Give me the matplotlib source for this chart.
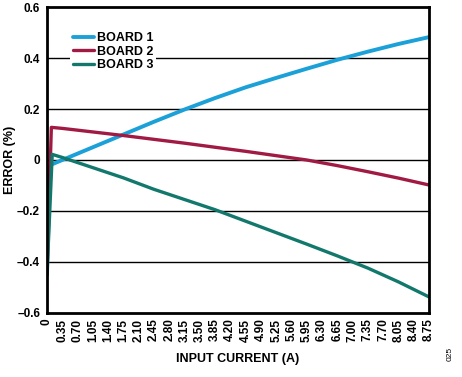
import matplotlib
matplotlib.use('Agg')
import numpy as np
import matplotlib.pyplot as plt

plt.rcParams['font.family'] = ['Liberation Sans', 'DejaVu Sans']
plt.rcParams['font.weight'] = 'bold'

# data
x1 = [0, 0.07, 0.35, 1.05, 1.75, 2.45, 3.15, 3.85, 4.55, 5.25, 5.95, 6.65, 7.35, 8.05, 8.75]
board1 = [-0.45, -0.02, 0.0, 0.05, 0.10, 0.15, 0.198, 0.243, 0.285, 0.322, 0.358, 0.393, 0.425, 0.455, 0.482]

x2 = [0, 0.10, 0.35, 1.05, 1.75, 2.45, 3.15, 3.85, 4.55, 5.25, 5.95, 6.65, 7.35, 8.05, 8.75]
board2 = [-0.44, 0.128, 0.124, 0.11, 0.096, 0.081, 0.066, 0.050, 0.034, 0.017, 0.0, -0.022, -0.046, -0.071, -0.098]

x3 = [0, 0.12, 0.35, 1.05, 1.75, 2.45, 3.15, 3.85, 4.55, 5.25, 5.95, 6.65, 7.35, 8.05, 8.75]
board3 = [-0.45, 0.022, 0.01, -0.03, -0.07, -0.115, -0.155, -0.195, -0.24, -0.285, -0.33, -0.376, -0.424, -0.478, -0.537]

xticks = [round(0.35 * i, 2) for i in range(26)]
xticklabels = ['0'] + ['%.2f' % v for v in xticks[1:]]
yticks = [-0.6, -0.4, -0.2, 0, 0.2, 0.4, 0.6]
yticklabels = ['–0.6', '–0.4', '–0.2', '0', '0.2', '0.4', '0.6']

C1, C2, C3 = '#1ba1d8', '#a01a44', '#12786c'

fig = plt.figure(figsize=(4.62, 3.77), dpi=100)
ax = fig.add_axes([0.1017, 0.1698, 0.8269, 0.8116])

ax.plot(x1, board1, color=C1, lw=2.8, label='BOARD 1', solid_capstyle='round')
ax.plot(x2, board2, color=C2, lw=2.4, label='BOARD 2', solid_capstyle='round')
ax.plot(x3, board3, color=C3, lw=2.4, label='BOARD 3', solid_capstyle='round')

ax.set_xlim(0, 8.75)
ax.set_ylim(-0.6, 0.6)
ax.set_xticks(xticks)
ax.set_xticklabels(xticklabels, rotation=90, fontsize=8.5, fontweight='bold')
ax.set_yticks(yticks)
ax.set_yticklabels(yticklabels, fontsize=8.5, fontweight='bold')
ax.tick_params(axis='both', length=0)
ax.tick_params(axis='y', pad=5)
ax.tick_params(axis='x', pad=4)

for v in [-0.4, -0.2, 0, 0.2, 0.4]:
    ax.axhline(v, color='black', lw=1.0, zorder=1)

for s in ax.spines.values():
    s.set_linewidth(2.0)
    s.set_color('black')

ax.set_xlabel('INPUT CURRENT (A)', fontsize=9, fontweight='bold', labelpad=8)
ax.set_ylabel('ERROR (%)', fontsize=9, fontweight='bold', labelpad=1)

leg = ax.legend(loc='upper left', bbox_to_anchor=(0.05, 0.94), frameon=True,
                fancybox=False, edgecolor='none', facecolor='white', framealpha=1,
                fontsize=9, handlelength=1.7, handletextpad=0.2,
                labelspacing=0.12, borderpad=0.25, borderaxespad=0.3)
for t in leg.get_texts():
    t.set_fontweight('bold')

fig.text(0.974, 0.06, '025', rotation=90, fontsize=6, fontweight='normal',
         ha='center', va='center')

fig.savefig('out.png', dpi=100)
